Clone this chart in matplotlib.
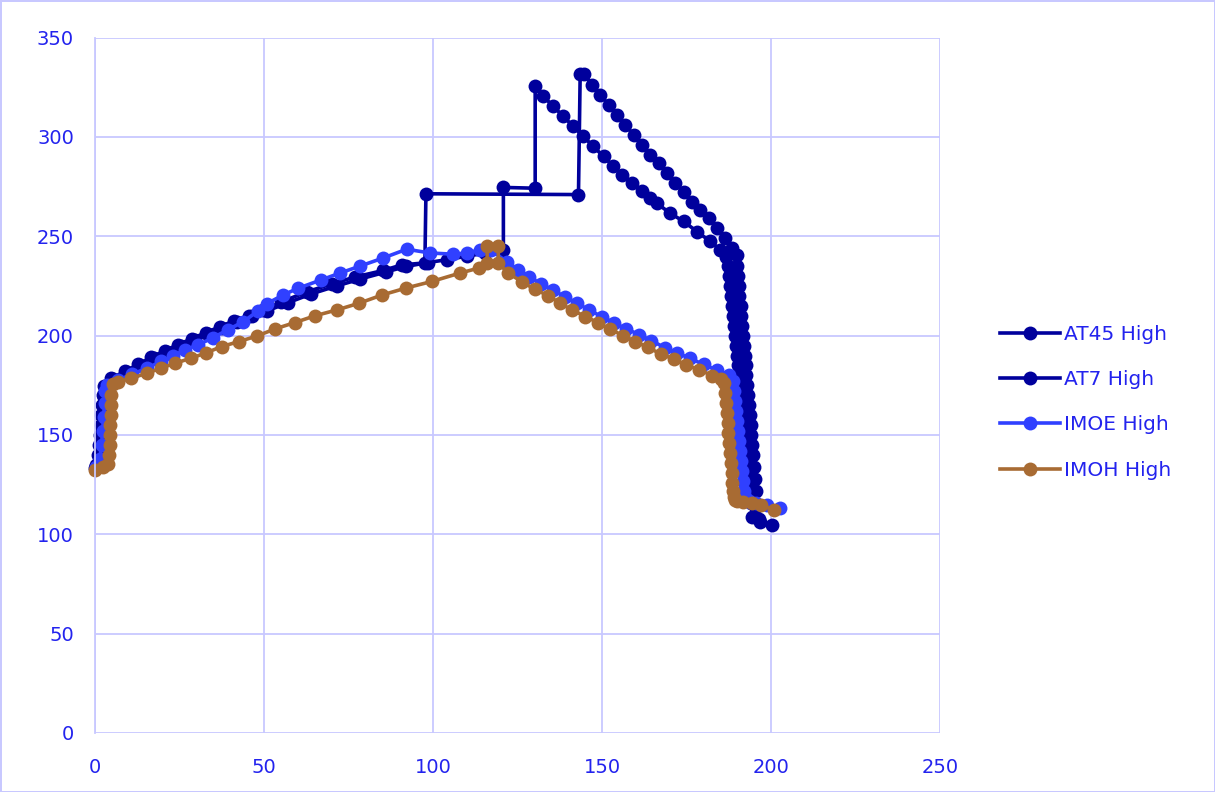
import matplotlib
matplotlib.use("Agg")
import matplotlib.pyplot as plt

# AT45 High
at45_x = [0.3, 1.0, 1.3, 1.5, 1.7, 1.9, 2.1, 2.3, 2.6, 4.9, 8.9, 12.8, 16.7, 20.7,
          24.7, 28.7, 32.8, 37.0, 41.2, 45.5, 49.8, 55.2, 62.6, 70.0, 76.9, 85.3,
          90.7, 97.6, 97.9, 143.0, 143.5, 144.6, 146.9, 149.4, 151.9, 154.3, 156.8,
          159.3, 161.7, 164.2, 166.7, 169.1, 171.6, 174.1, 176.5, 179.0, 181.5,
          183.9, 186.4, 188.4, 189.8, 190.0, 190.2, 190.4, 190.6, 190.9, 191.1,
          191.4, 191.6, 191.9, 192.1, 192.4, 192.6, 192.9, 193.1, 193.4, 193.6,
          193.9, 194.1, 194.4, 194.6, 194.9, 195.1, 195.4, 195.6, 196.5, 200.3]
at45_y = [135.0, 140.0, 145.0, 150.0, 155.0, 160.0, 165.0, 170.0, 174.5, 178.5,
          182.0, 185.5, 189.0, 192.5, 195.5, 198.5, 201.5, 204.5, 207.5, 210.0,
          212.8, 217.0, 222.0, 226.0, 229.5, 232.8, 235.6, 236.6, 271.4, 271.0,
          331.5, 331.8, 326.3, 321.2, 316.2, 311.2, 306.1, 301.1, 296.1, 291.0,
          286.7, 281.8, 276.7, 272.5, 267.5, 263.3, 259.1, 254.1, 249.1, 244.0,
          240.7, 235.0, 230.0, 225.0, 220.0, 215.0, 210.0, 205.0, 200.0, 195.0,
          190.0, 185.0, 180.0, 175.0, 170.0, 165.0, 160.0, 155.0, 150.0, 145.0,
          140.0, 134.0, 128.0, 122.0, 114.0, 107.5, 104.7]

# AT7 High
at7_x = [0.0, 1.5, 1.8, 2.0, 2.2, 2.4, 2.6, 2.8, 3.0, 5.5, 9.5, 13.5, 17.5, 21.5,
         25.5, 29.5, 33.5, 37.5, 42.0, 46.5, 51.0, 57.0, 64.0, 71.5, 78.5, 86.0,
         92.0, 98.5, 104.0, 110.0, 115.5, 120.8, 120.8, 130.2, 130.2, 132.6,
         135.6, 138.5, 141.5, 144.4, 147.4, 150.4, 153.3, 155.8, 158.8, 161.7,
         164.0, 166.2, 170.1, 174.1, 178.0, 182.0, 184.9, 186.5, 187.3, 187.6,
         187.9, 188.2, 188.5, 188.8, 189.1, 189.4, 189.7, 190.0, 190.3, 190.6,
         190.9, 191.2, 191.5, 191.8, 192.1, 192.4, 192.7, 193.0, 193.3, 193.6,
         193.9, 194.4, 196.7]
at7_y = [133.5, 139.0, 144.0, 149.0, 154.0, 159.0, 164.0, 169.0, 174.0, 178.0,
         181.5, 185.0, 188.5, 192.0, 195.0, 198.0, 201.0, 204.0, 207.0, 209.8,
         212.5, 216.5, 221.0, 225.0, 228.5, 232.0, 234.8, 236.8, 238.2, 240.0,
         241.5, 243.2, 274.6, 274.2, 325.4, 320.4, 315.4, 310.3, 305.3, 300.3,
         295.2, 290.2, 285.2, 281.0, 276.8, 272.6, 269.5, 266.6, 261.6, 257.5,
         252.4, 247.4, 243.2, 239.5, 235.0, 230.0, 225.0, 220.0, 215.0, 210.0,
         205.0, 200.0, 195.0, 190.0, 185.0, 180.0, 175.0, 170.0, 165.0, 160.0,
         155.0, 150.0, 145.0, 139.0, 132.0, 124.0, 116.0, 108.8, 106.2]

# IMOE High
imoe_x = [0.5, 1.5, 2.0, 2.3, 2.6, 2.9, 3.0, 3.5, 6.9, 11.0, 15.3, 19.7, 23.1,
          26.6, 30.6, 35.0, 39.4, 43.9, 48.3, 50.8, 55.7, 60.2, 67.0, 72.5, 78.4,
          85.3, 92.2, 99.1, 106.0, 110.0, 113.9, 117.0, 121.8, 125.2, 128.5, 132.0,
          135.5, 139.0, 142.5, 146.0, 150.0, 153.5, 157.0, 161.0, 164.5, 168.5,
          172.0, 176.0, 180.0, 184.0, 187.5, 188.8, 189.0, 189.3, 189.6, 189.9,
          190.2, 190.5, 190.8, 191.1, 191.4, 191.7, 192.0, 192.3, 192.6, 193.0,
          193.4, 193.8, 195.5, 198.7, 202.5]
imoe_y = [134.0, 138.0, 145.0, 152.0, 159.0, 166.0, 172.0, 175.0, 177.7, 180.5,
          183.6, 187.0, 189.8, 192.8, 195.4, 199.0, 203.0, 207.0, 212.5, 216.0,
          220.5, 223.9, 228.1, 231.5, 235.0, 239.1, 243.5, 241.6, 241.0, 241.6,
          243.2, 243.0, 237.3, 233.1, 229.5, 226.0, 223.0, 219.5, 216.5, 213.0,
          209.5, 206.5, 203.5, 200.5, 197.5, 194.0, 191.5, 188.5, 185.5, 182.5,
          180.0, 177.0, 172.0, 167.0, 162.0, 157.0, 152.0, 147.0, 142.0, 137.0,
          132.0, 127.0, 122.0, 119.0, 117.5, 117.0, 116.8, 116.5, 116.0, 115.0,
          113.0]

# IMOH High
imoh_x = [0.0, 2.5, 4.0, 4.3, 4.4, 4.5, 4.6, 4.7, 4.8, 4.9, 5.3, 6.8, 10.8, 15.3,
          19.5, 23.7, 28.4, 33.0, 37.5, 42.6, 48.1, 53.3, 59.2, 65.1, 71.7, 78.1,
          85.0, 91.9, 99.7, 108.0, 113.5, 116.0, 116.0, 119.3, 119.3, 122.3, 126.2,
          130.0, 133.9, 137.6, 141.0, 145.0, 148.7, 152.4, 156.3, 159.8, 163.5,
          167.3, 171.1, 174.7, 178.7, 182.6, 185.0, 186.1, 186.4, 186.7, 186.9,
          187.1, 187.3, 187.6, 187.9, 188.1, 188.3, 188.5, 188.8, 189.1, 189.4,
          189.8, 191.5, 194.2, 197.0, 200.7]
imoh_y = [132.4, 134.0, 135.5, 140.0, 145.0, 150.0, 155.0, 160.0, 165.0, 170.0,
          175.5, 176.7, 178.6, 181.0, 183.6, 186.1, 188.6, 191.4, 194.5, 197.0,
          199.9, 203.4, 206.6, 210.0, 213.0, 216.3, 220.5, 223.9, 227.3, 231.5,
          234.0, 236.5, 245.0, 245.0, 236.5, 231.4, 227.2, 223.4, 220.2, 216.3,
          213.0, 209.6, 206.6, 203.2, 199.9, 197.0, 194.1, 190.8, 188.3, 185.3,
          182.8, 179.9, 178.0, 176.0, 171.0, 166.0, 161.0, 156.0, 151.0, 146.0,
          141.0, 136.0, 131.0, 126.0, 122.0, 119.0, 117.5, 117.0, 116.5, 115.6,
          114.8, 112.3]

series = [
    ("AT45 High", at45_x, at45_y, "#00009C"),
    ("AT7 High", at7_x, at7_y, "#00009C"),
    ("IMOE High", imoe_x, imoe_y, "#3040FF"),
    ("IMOH High", imoh_x, imoh_y, "#A86B33"),
]

TEXT_COLOR = "#2323EE"
GRID_COLOR = "#C8C8FF"

fig = plt.figure(figsize=(12.15, 7.92), dpi=100)
fig.patch.set_edgecolor(GRID_COLOR)
fig.patch.set_linewidth(2)
ax = fig.add_axes([0.078, 0.0745, 0.696, 0.878])

for name, xs, ys, color in series:
    ax.plot(xs, ys, color=color, linewidth=2.6, marker="o", markersize=10,
            markeredgewidth=0, label=name, clip_on=False)

ax.set_xlim(0, 250)
ax.set_ylim(0, 350)
ax.set_xticks(range(0, 251, 50))
ax.set_yticks(range(0, 351, 50))
ax.grid(True, color=GRID_COLOR, linewidth=1.3)
ax.set_axisbelow(True)
for side in ["top", "right", "bottom"]:
    ax.spines[side].set_visible(False)
ax.spines["left"].set_color(GRID_COLOR)
ax.spines["left"].set_linewidth(1.3)
ax.tick_params(length=0, labelsize=14, colors=TEXT_COLOR)
ax.tick_params(axis="x", pad=18)
ax.tick_params(axis="y", pad=15)

leg = fig.legend(loc="center left", bbox_to_anchor=(0.808, 0.492), frameon=False,
                 fontsize=14.5, labelspacing=1.3, handlelength=3.0, handletextpad=0.2,
                 labelcolor=TEXT_COLOR)

fig.savefig("out.png", dpi=100)
